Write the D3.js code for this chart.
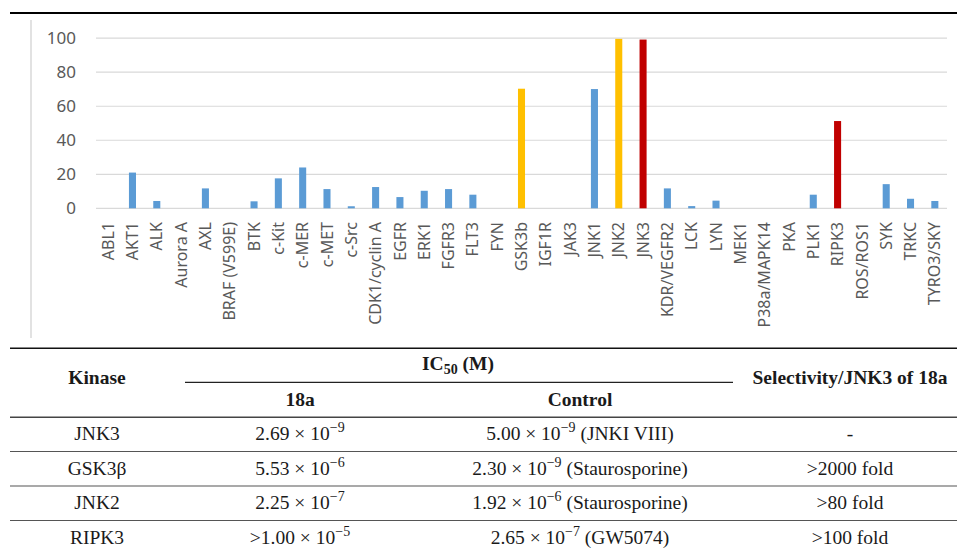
<!DOCTYPE html>
<html>
  <head>
    <meta charset="utf-8">
    <title>Kinase panel</title>
    <script src="https://d3js.org/d3.v7.min.js"></script>
    <style>
      body { margin: 0; background: #fff; }
      svg { display: block; }
    </style>
  </head>
  <body>
    <div id="chart"></div>

    <script>
      // Bar chart data (% inhibition per kinase)
      var kinases = ["ABL1", "AKT1", "ALK", "Aurora A", "AXL", "BRAF (V599E)", "BTK", "c-Kit",
        "c-MER", "c-MET", "c-Src", "CDK1/cyclin A", "EGFR", "ERK1", "FGFR3", "FLT3", "FYN",
        "GSK3b", "IGF1R", "JAK3", "JNK1", "JNK2", "JNK3", "KDR/VEGFR2", "LCK", "LYN", "MEK1",
        "P38a/MAPK14", "PKA", "PLK1", "RIPK3", "ROS/ROS1", "SYK", "TRKC", "TYRO3/SKY"];
      var inhibition = [0, 21, 4.3, 0, 11.7, 0, 4.1, 17.6,
        24, 11.3, 1.2, 12.5, 6.6, 10.3, 11.3, 8, 0,
        70.3, 0, 0, 70.1, 99.6, 99.2, 11.7, 1.3, 4.5, 0,
        0, 0, 8, 51.3, 0, 14.2, 5.6, 4.3];
      var offTargets = ["GSK3b", "JNK2"];
      var mainTargets = ["JNK3", "RIPK3"];
      var yTicks = [0, 20, 40, 60, 80, 100];

      // Table data
      var tableKinases = ["JNK3", "GSK3\u03B2", "JNK2", "RIPK3"];
      var ic50Mantissa = ["2.69", "5.53", "2.25", ">1.00"];
      var ic50Exponent = [-9, -6, -7, -5];
      var controlMantissa = ["5.00", "2.30", "1.92", "2.65"];
      var controlExponent = [-9, -9, -6, -7];
      var controlDrug = ["JNKI VIII", "Staurosporine", "Staurosporine", "GW5074"];
      var selectivity = ["-", ">2000 fold", ">80 fold", ">100 fold"];

      var width = 957, height = 549;
      var sans = "'Noto Sans', 'Open Sans', sans-serif";
      var svg = d3.select("#chart").append("svg")
        .attr("width", width).attr("height", height);

      // frame lines
      svg.append("line")
        .attr("x1", 10).attr("x2", width).attr("y1", 13).attr("y2", 13)
        .style("stroke", "#000").style("stroke-width", 2);
      svg.append("line")
        .attr("x1", 31).attr("x2", 31).attr("y1", 20).attr("y2", 338)
        .style("stroke", "#d9d9d9").style("stroke-width", 1.5);

      var x = d3.scaleBand().domain(kinases).range([96, 947])
        .paddingInner(0.71).paddingOuter(0.355);
      var y = d3.scaleLinear().domain([0, 100]).range([208.3, 38.2]);

      var colour = function (k) {
        if (mainTargets.indexOf(k) >= 0) return "#c00000";
        if (offTargets.indexOf(k) >= 0) return "#ffc000";
        return "#5b9bd5";
      };

      // gridlines
      svg.append("g").selectAll("line").data(yTicks).enter().append("line")
        .attr("x1", 96).attr("x2", 947)
        .attr("y1", function (d) { return y(d); })
        .attr("y2", function (d) { return y(d); })
        .style("stroke", "#d9d9d9").style("stroke-width", 1.2);

      svg.append("g").selectAll("text").data(yTicks).enter().append("text")
        .attr("x", 76).attr("y", function (d) { return y(d); })
        .attr("dy", "0.35em").attr("text-anchor", "end")
        .style("font-family", sans).style("font-size", "17px")
        .style("font-stretch", "normal")
        .style("fill", "#595959")
        .text(function (d) { return d; });

      // bars
      svg.append("g").selectAll("rect").data(kinases).enter().append("rect")
        .attr("x", function (d) { return x(d); })
        .attr("width", x.bandwidth())
        .attr("y", function (d, i) { return y(inhibition[i]); })
        .attr("height", function (d, i) { return y(0) - y(inhibition[i]); })
        .style("fill", colour);

      // category labels
      svg.append("g").selectAll("text").data(kinases).enter().append("text")
        .attr("transform", function (d) {
          return "translate(" + (x(d) + x.bandwidth() / 2) + ",222) rotate(-90)";
        })
        .attr("dy", "0.35em").attr("text-anchor", "end")
        .style("font-family", sans).style("font-size", "16px")
        .style("font-stretch", "normal")
        .style("fill", "#595959")
        .text(function (d) { return d; });

      // ---- table ----
      var serif = "'Liberation Serif', 'Times New Roman', serif";
      var fs = 19.5;
      var colX = { kinase: 97, c18a: 300, control: 580, sel: 850, ic50: 458 };
      var row = d3.scaleBand().domain(d3.range(tableKinases.length)).range([417, 555]);

      function hline(x1, x2, yy, w, c) {
        svg.append("line").attr("x1", x1).attr("x2", x2).attr("y1", yy).attr("y2", yy)
          .style("stroke", c).style("stroke-width", w);
      }
      hline(10, width, 348.3, 1.5, "#111");
      hline(185, 733, 382.3, 1.2, "#222");
      hline(10, width, 417.3, 1.4, "#444");
      tableKinases.forEach(function (d, i) {
        if (i > 0) hline(10, width, row(i), 1.2, "#555");
      });

      function label(xx, yy, bold) {
        return svg.append("text").attr("x", xx).attr("y", yy)
          .attr("text-anchor", "middle")
          .style("font-family", serif).style("font-size", fs + "px")
          .style("font-weight", bold ? "bold" : "normal")
          .style("fill", "#1a1a1a");
      }

      label(colX.kinase, 384.3, true).text("Kinase");
      var ic = label(colX.ic50, 370, true);
      ic.append("tspan").text("IC");
      ic.append("tspan").attr("dy", 4).style("font-size", "14px").text("50");
      ic.append("tspan").attr("dy", -4).text(" (M)");
      label(colX.c18a, 405.7, true).text("18a");
      label(colX.control, 405.7, true).text("Control");
      label(colX.sel, 384, true).text("Selectivity/JNK3 of 18a");

      function sci(t, mant, expo, tail) {
        t.append("tspan").text(mant + " \u00D7 10");
        t.append("tspan").attr("dy", -8).style("font-size", "14px")
          .text("\u2212" + Math.abs(expo));
        t.append("tspan").attr("dy", 8).text(tail ? " " + tail : "");
      }

      tableKinases.forEach(function (k, i) {
        var base = row(i) + 23;
        label(colX.kinase, base, false).text(k);
        sci(label(colX.c18a, base, false), ic50Mantissa[i], ic50Exponent[i]);
        sci(label(colX.control, base, false), controlMantissa[i], controlExponent[i],
          "(" + controlDrug[i] + ")");
        label(colX.sel, base, false).text(selectivity[i]);
      });
    </script>
  </body>
</html>
